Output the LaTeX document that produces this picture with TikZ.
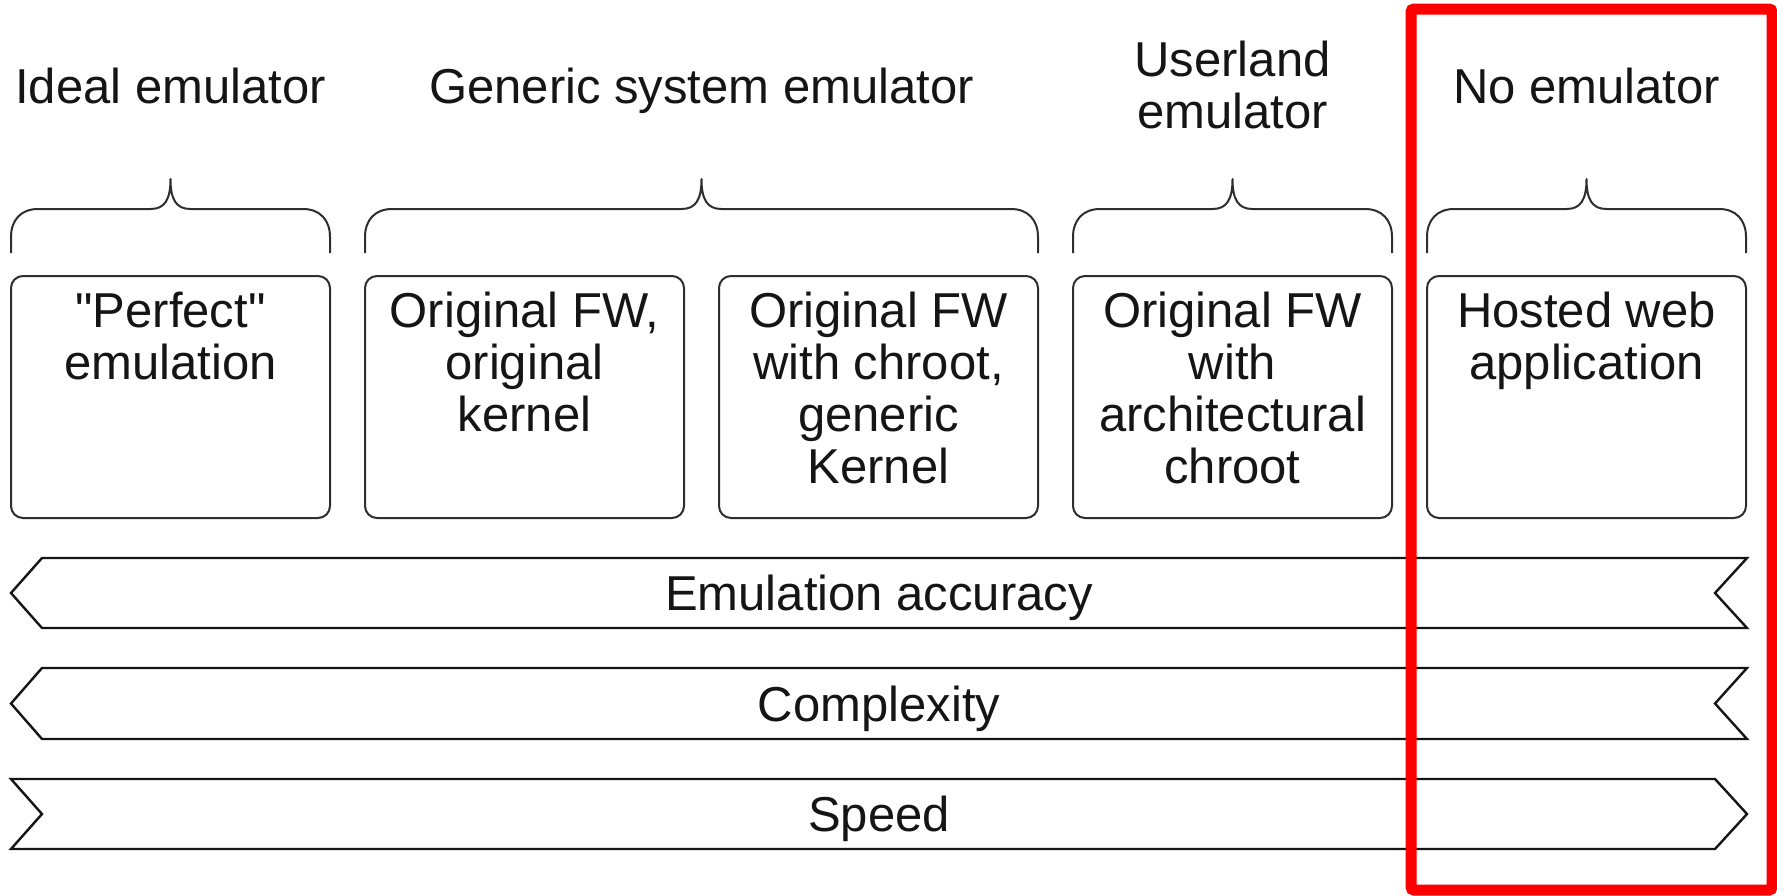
\documentclass[tikz,border=0pt]{standalone}
\usepackage{fontspec}
\setmainfont{Liberation Sans}
% same face without TeX ligature mapping, for straight double quotes
\setmonofont{Liberation Sans}
\newcommand{\dq}{{\ttfamily"}}
\definecolor{ink}{HTML}{151515}
\definecolor{edge}{HTML}{2E2E2E}
\definecolor{framered}{HTML}{FF0000}
\begin{document}
\begin{tikzpicture}[x=0.5pt,y=-0.5pt,
  txt/.style={font=\fontsize{24.5}{26}\selectfont, text=ink, align=center, inner sep=0pt, anchor=base},
  panel/.style={draw=edge, line width=1pt, rounded corners=6pt, fill=white,
    minimum width=159.5pt, minimum height=121pt, inner sep=0pt, outer sep=0pt, anchor=north west},
  bracket/.style={draw=edge, line width=1pt, line join=round},
  band/.style={draw=ink, line width=1.2pt, line join=miter, fill=white}]
\useasboundingbox (0,0) rectangle (1777,895);

% group titles (base anchor = baseline of the last line)
\node[txt] (tIdeal)   at (170.5,103) {Ideal emulator};
\node[txt] (tGeneric) at (701.5,103) {Generic system emulator};
\node[txt] (tUser)    at (1232.5,128) {Userland\\emulator};
\node[txt] (tNone)    at (1586.5,103) {No emulator};

% curly brackets grouping the panels
\foreach \l/\r in {11/330, 365/1038, 1073/1392, 1427/1746} {
  \pgfmathsetmacro\m{(\l+\r)/2}
  \draw[bracket] (\l,253) -- (\l,237)
    .. controls (\l,220) and (\l+10,209) .. (\l+27,209)
    -- (\m-20,209) .. controls (\m-6,209) and (\m,200) .. (\m,179)
    .. controls (\m,200) and (\m+6,209) .. (\m+20,209)
    -- (\r-27,209) .. controls (\r-10,209) and (\r,220) .. (\r,237)
    -- (\r,253);
}

% emulation variants
\node[panel] (p1) at (11,276) {};
\node[panel] (p2) at (365,276) {};
\node[panel] (p3) at (719,276) {};
\node[panel] (p4) at (1073,276) {};
\node[panel] (p5) at (1427,276) {};

\node[txt] (l1) at (170.5,379)  {\dq Perfect\dq\\emulation};
\node[txt] (l2) at (524.5,431)  {Original FW,\\original\\kernel};
\node[txt] (l3) at (878.5,483)  {Original FW\\with chroot,\\generic\\Kernel};
\node[txt] (l4) at (1232.5,483) {Original FW\\with\\architectural\\chroot};
\node[txt] (l5) at (1586.5,379) {Hosted web\\application};

% trend bands
\draw[band] (11,593) -- (42,558) -- (1747,558) -- (1715,593) -- (1747,628) -- (42,628) -- cycle;
\draw[band] (11,703.5) -- (42,668) -- (1747,668) -- (1715,703.5) -- (1747,739) -- (42,739) -- cycle;
\draw[band] (11,779) -- (1715,779) -- (1747,814) -- (1715,849) -- (11,849) -- (42,814) -- cycle;

\node[txt] (aAcc)  at (879,610) {Emulation accuracy};
\node[txt] (aCplx) at (879,721) {Complexity};
\node[txt] (aSpd)  at (879,831) {Speed};

% highlight frame
\draw[framered, line width=5.5pt, rounded corners=1.5pt] (1411,9) rectangle (1772,890);
\end{tikzpicture}
\end{document}
